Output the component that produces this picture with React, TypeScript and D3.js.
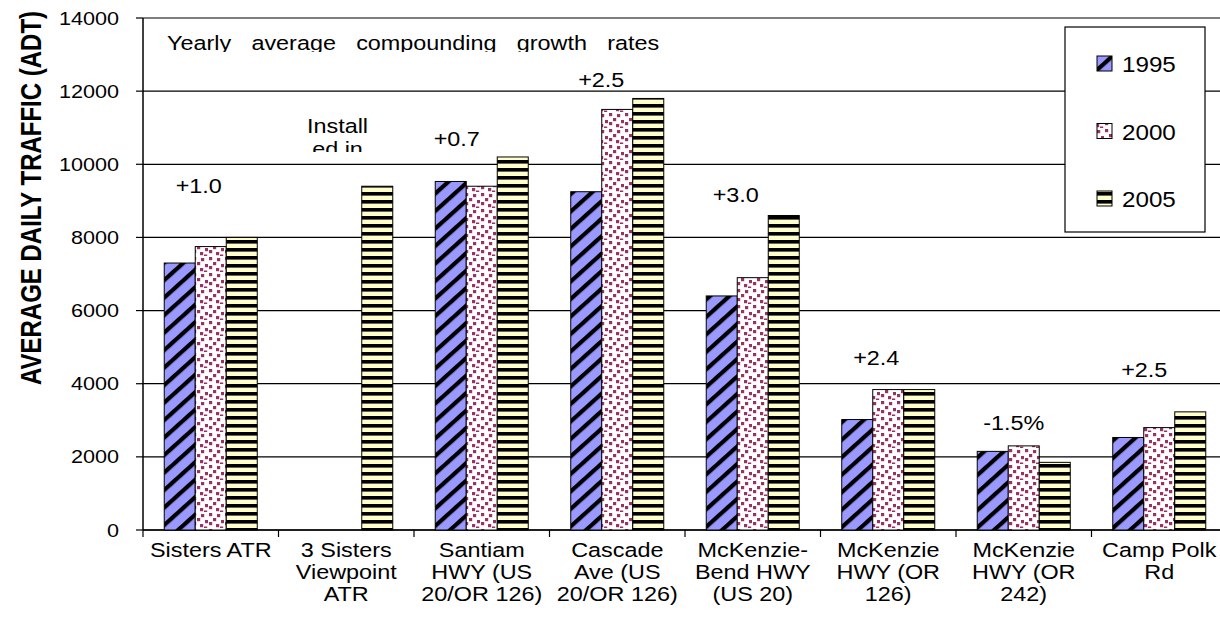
import React from "react";
import * as d3 from "d3";

const categories: string[][] = [
  ["Sisters ATR"],
  ["3 Sisters", "Viewpoint", "ATR"],
  ["Santiam", "HWY (US", "20/OR 126)"],
  ["Cascade", "Ave (US", "20/OR 126)"],
  ["McKenzie-", "Bend HWY", "(US 20)"],
  ["McKenzie", "HWY (OR", "126)"],
  ["McKenzie", "HWY (OR", "242)"],
  ["Camp Polk", "Rd"],
];
const seriesNames = ["1995", "2000", "2005"];
const v1995: (number | null)[] = [7300, null, 9530, 9250, 6400, 3020, 2150, 2530];
const v2000: (number | null)[] = [7750, null, 9400, 11500, 6900, 3840, 2300, 2800];
const v2005: (number | null)[] = [8000, 9400, 10200, 11800, 8600, 3840, 1850, 3230];
const yTicks = [0, 2000, 4000, 6000, 8000, 10000, 12000, 14000];
const growthLabels = ["+1.0", null, "+0.7", "+2.5", "+3.0", "+2.4", "-1.5%", "+2.5"];
const growthValues = [9215, null, 10500, 12110, 8970, 4510, 2735, 4185];
const growthDx = [-12, 0, -25, -16, -17, -12, -10, -15];

const W = 1220;
const H = 637;
const M = { left: 143, top: 18, bottom: 530 };
const step = 135.5;
const right = M.left + step * categories.length;
const FONT = "'Liberation Sans', Arial, sans-serif";
const SX = 1.2;

const T = ({ x, y, size, anchor = "middle", weight = "normal", sx = SX, ws = 0, children }: any) => (
  <text
    transform={`translate(${x},${y}) scale(${sx},1)`}
    textAnchor={anchor}
    fontFamily={FONT}
    fontSize={size}
    fontWeight={weight}
    wordSpacing={ws}
    fill="#000"
  >
    {children}
  </text>
);

export default function App() {
  const keys = categories.map((_, i) => String(i));
  const x0 = d3.scaleBand<string>().domain(keys).range([M.left, right]).padding(0);
  const x1 = d3
    .scaleBand<string>()
    .domain(seriesNames)
    .range([0, x0.bandwidth()])
    .paddingInner(0)
    .paddingOuter(0.685);
  const y = d3.scaleLinear().domain([0, 14000]).range([M.bottom, M.top]);
  const series = [v1995, v2000, v2005];
  const fills = ["url(#p1995)", "url(#p2000)", "url(#p2005)"];

  return (
    <div style={{ position: "fixed", left: 0, top: 0 }}>
      <svg width={W} height={H} style={{ display: "block", background: "#fff" }}>
        <defs>
          <pattern id="p1995" width={13} height={13} patternUnits="userSpaceOnUse" patternTransform="rotate(-42)">
            <rect width={13} height={13} fill="#9999FF" />
            <rect y={4} width={13} height={4.2} fill="#000" />
          </pattern>
          <pattern id="p2000" width={16} height={16} patternUnits="userSpaceOnUse">
            <rect width={16} height={16} fill="#fff" />
            {[
              [1, 1],
              [9, 2],
              [5, 6],
              [13, 8],
              [1, 10],
              [8, 12],
              [12, 14.5],
            ].map(([a, b], i) => (
              <rect key={i} x={a} y={b} width={3.2} height={3.2} fill="#993366" />
            ))}
          </pattern>
          <pattern id="p2005" width={8} height={8} patternUnits="userSpaceOnUse">
            <rect width={8} height={8} fill="#FFFFCC" />
            <rect y={0} width={8} height={3.6} fill="#000" />
          </pattern>
          <clipPath id="clipTitle">
            <rect x={150} y={20} width={560} height={32} />
          </clipPath>
          <clipPath id="clipInst">
            <rect x={290} y={100} width={100} height={52} />
          </clipPath>
        </defs>

        {/* gridlines */}
        {yTicks.map((t) => (
          <line key={t} x1={M.left} x2={right} y1={y(t)} y2={y(t)} stroke="#000" strokeWidth={1.2} />
        ))}
        {/* left axis */}
        <line x1={M.left} x2={M.left} y1={M.top} y2={M.bottom} stroke="#000" strokeWidth={1.5} />
        {yTicks.map((t) => (
          <g key={"yt" + t}>
            <line x1={M.left - 7} x2={M.left} y1={y(t)} y2={y(t)} stroke="#000" strokeWidth={1.2} />
            <T x={119} y={y(t) + 6.5} size={18} anchor="end">
              {t}
            </T>
          </g>
        ))}
        {/* bottom axis */}
        <line x1={M.left} x2={right} y1={M.bottom} y2={M.bottom} stroke="#000" strokeWidth={1.5} />
        {d3.range(categories.length + 1).map((i) => (
          <line
            key={"xt" + i}
            x1={M.left + i * step}
            x2={M.left + i * step}
            y1={M.bottom}
            y2={M.bottom + 7}
            stroke="#000"
            strokeWidth={1.2}
          />
        ))}

        {/* bars */}
        {keys.map((k, i) => (
          <g key={"g" + k}>
            {series.map((s, si) => {
              const v = s[i];
              if (v == null) return null;
              return (
                <rect
                  key={si}
                  x={(x0(k) as number) + (x1(seriesNames[si]) as number)}
                  y={y(v)}
                  width={x1.bandwidth()}
                  height={y(0) - y(v)}
                  fill={fills[si]}
                  stroke="#000"
                  strokeWidth={1}
                />
              );
            })}
          </g>
        ))}

        {/* category labels */}
        {categories.map((lines, i) => (
          <g key={"c" + i}>
            {lines.map((ln, li) => (
              <T key={li} x={(x0(keys[i]) as number) + step / 2} y={557 + li * 22} size={19.5}>
                {ln}
              </T>
            ))}
          </g>
        ))}

        {/* growth annotations */}
        {growthLabels.map((g, i) =>
          g == null ? null : (
            <T
              key={"a" + i}
              x={(x0(keys[i]) as number) + step / 2 + growthDx[i]}
              y={y(growthValues[i] as number)}
              size={19.5}
            >
              {g}
            </T>
          )
        )}

        {/* text boxes */}
        <g clipPath="url(#clipTitle)">
          <T x={167} y={50} size={19.5} anchor="start" ws={11.5}>
            Yearly average compounding growth rates
          </T>
        </g>
        <g clipPath="url(#clipInst)">
          <T x={337.5} y={133} size={19.5}>
            Install
          </T>
          <T x={337.5} y={156} size={19.5}>
            ed in
          </T>
        </g>

        {/* legend */}
        <rect x={1065} y={27} width={140} height={205} fill="#fff" stroke="#000" strokeWidth={1.2} />
        {seriesNames.map((s, i) => (
          <g key={"l" + s}>
            <rect x={1097} y={56 + i * 67.5} width={15} height={15} fill={fills[i]} stroke="#000" strokeWidth={1} />
            <T x={1122} y={72 + i * 67.5} size={22} anchor="start" sx={1.1}>
              {s}
            </T>
          </g>
        ))}

        {/* y title */}
        <g transform="translate(41,198) rotate(-90) scale(1,1.2)">
          <text textAnchor="middle" fontFamily={FONT} fontSize={24} fontWeight="bold" fill="#000">
            AVERAGE DAILY TRAFFIC (ADT)
          </text>
        </g>
      </svg>
    </div>
  );
}
